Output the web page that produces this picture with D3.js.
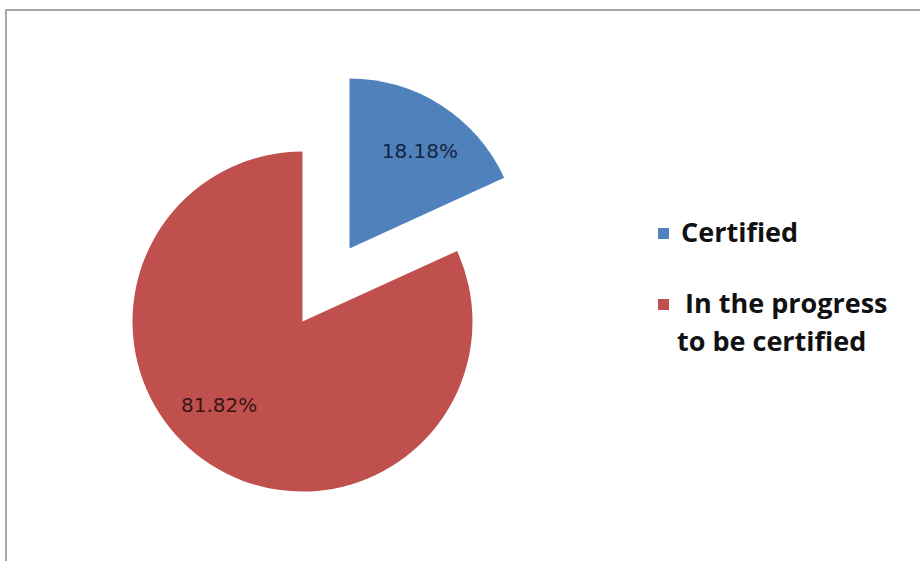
<!DOCTYPE html>
<html>
<head>
<meta charset="utf-8">
<script src="https://cdn.jsdelivr.net/npm/d3@7"></script>
<style>
  html, body { margin: 0; padding: 0; background: #fff; }
  svg { display: block; }
</style>
</head>
<body>
<svg id="chart" width="920" height="561"></svg>
<script>
// Certification status shares
const categories = ["Certified", "In the progress to be certified"];
const values = [18.18, 81.82];
const valueLabels = ["18.18%", "81.82%"];
const legendLines = [["Certified"], [" In the progress", "to be certified"]];
const colors = ["#4f81bd", "#c0504d"];
const labelColors = ["#17243d", "#3b1414"];

const svg = d3.select("#chart");

// Chart area frame (runs off the right and bottom edges)
svg.append("path")
  .attr("d", "M6,561 L6,10 L920,10")
  .attr("fill", "none")
  .attr("stroke", "#a6a6a6")
  .attr("stroke-width", 2);

const cx = 326, cy = 285, r = 170, explode = 43.5;

const pie = d3.pie().sort(null).value(d => d)
  .startAngle(0).endAngle(2 * Math.PI);
const arcs = pie(values);
const arc = d3.arc().innerRadius(0).outerRadius(r);
const labelArc = d3.arc().innerRadius(r * 0.7).outerRadius(r * 0.7);

// small hand nudges for the data label placement
const labelNudge = [[6, 3], [-19, -17]];

const g = svg.append("g").attr("transform", `translate(${cx},${cy})`);

const slice = g.selectAll("g.slice").data(arcs).enter().append("g")
  .attr("class", "slice")
  .attr("transform", d => {
    const a = (d.startAngle + d.endAngle) / 2;
    return `translate(${explode * Math.sin(a)},${-explode * Math.cos(a)})`;
  });

slice.append("path")
  .attr("d", arc)
  .attr("fill", (d, i) => colors[i]);

slice.append("text")
  .attr("x", (d, i) => labelArc.centroid(d)[0] + labelNudge[i][0])
  .attr("y", (d, i) => labelArc.centroid(d)[1] + labelNudge[i][1])
  .attr("text-anchor", "middle")
  .attr("dominant-baseline", "central")
  .attr("font-family", "DejaVu Sans, sans-serif")
  .attr("font-size", 20)
  .attr("fill", (d, i) => labelColors[i])
  .text((d, i) => valueLabels[i]);

// Legend
const legend = svg.append("g").attr("class", "legend");
const legendRows = [{ y: 242, x: 681 }, { y: 313, x: 678 }];
legendLines.forEach((lines, i) => {
  const row = legend.append("g");
  row.append("rect")
    .attr("x", 658).attr("y", legendRows[i].y - 14)
    .attr("width", 11).attr("height", 11)
    .attr("fill", colors[i]);
  const t = row.append("text")
    .attr("font-family", "Open Sans, Lato, sans-serif")
    .attr("font-weight", "bold")
    .attr("font-size", 27)
    .attr("fill", "#111")
    .attr("xml:space", "preserve")
    .style("white-space", "pre");
  lines.forEach((ln, j) => {
    t.append("tspan")
      .attr("x", j === 0 ? legendRows[i].x : 677)
      .attr("y", legendRows[i].y + j * 38)
      .text(ln);
  });
});
</script>
</body>
</html>
